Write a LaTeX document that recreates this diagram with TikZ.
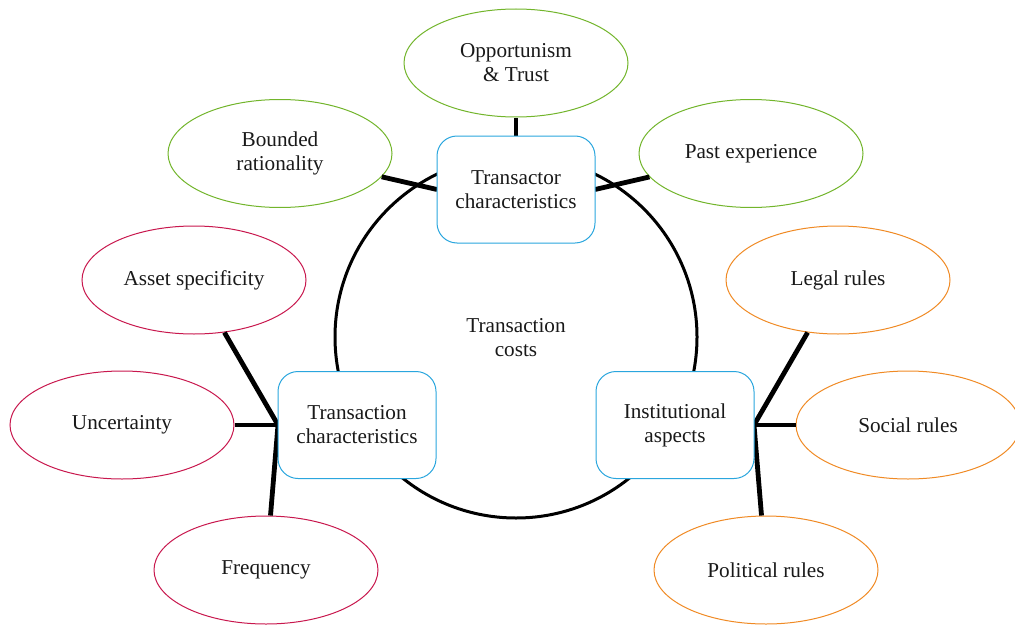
\documentclass[tikz,border=0pt]{standalone}
\usepackage{fontspec}
\setmainfont{Liberation Serif}
\usetikzlibrary{shapes.geometric}
\definecolor{cgreen}{HTML}{72B52B}
\definecolor{cred}{HTML}{C8174D}
\definecolor{corange}{HTML}{F08A24}
\definecolor{cblue}{HTML}{2AA6DE}
\begin{document}
\begin{tikzpicture}[x=0.5pt,y=-0.5pt,
  every node/.style={font=\fontsize{10.6}{12}\selectfont, align=center, text=black!90},
  oval/.style={ellipse, draw=#1, line width=0.5pt, fill=white, minimum width=112pt, minimum height=54pt, inner sep=0pt},
  factor/.style={draw=cblue, line width=0.5pt, rounded corners=10pt, fill=white, minimum width=79pt, minimum height=53.5pt, inner sep=0pt},
  link/.style={line width=2.4pt}]
\useasboundingbox (0,0) rectangle (1015,626);
\clip (0,0) rectangle (1015,626);
% central circle
\node[circle, draw, line width=1.5pt, minimum size=181pt, inner sep=0pt] (circ) at (516,337) {};
\node (tc) at (516,338) {Transaction\\costs};
% ellipses
\node[oval=cgreen] (opp) at (516,63) {Opportunism\\\& Trust};
\node[oval=cgreen] (bnd) at (280,153.5) {Bounded\\rationality};
\node[oval=cgreen] (past) at (751,153.5) {Past experience};
\node[oval=cred] (asset) at (194,280) {Asset specificity};
\node[oval=cred] (unc) at (122,425) {Uncertainty};
\node[oval=cred] (freq) at (266,570) {Frequency};
\node[oval=corange] (legal) at (838,280) {Legal rules};
\node[oval=corange] (social) at (908,425) {Social rules};
\node[oval=corange] (pol) at (766,570) {Political rules};
% links
\draw[link] (opp) -- (516,136);
\draw[link] (bnd) -- (437,189.5);
\draw[link] (past) -- (595,189.5);
\draw[link] (asset) -- (278,425);
\draw[link] (unc) -- (278,425);
\draw[link] (freq) -- (278,425);
\draw[link] (legal) -- (754,425);
\draw[link] (social) -- (754,425);
\draw[link] (pol) -- (754,425);
% boxes
\node[factor] (tor) at (516,189.5) {Transactor\\characteristics};
\node[factor] (tion) at (357,425) {Transaction\\characteristics};
\node[factor] (inst) at (675,425) {Institutional\\aspects};
\end{tikzpicture}
\end{document}
